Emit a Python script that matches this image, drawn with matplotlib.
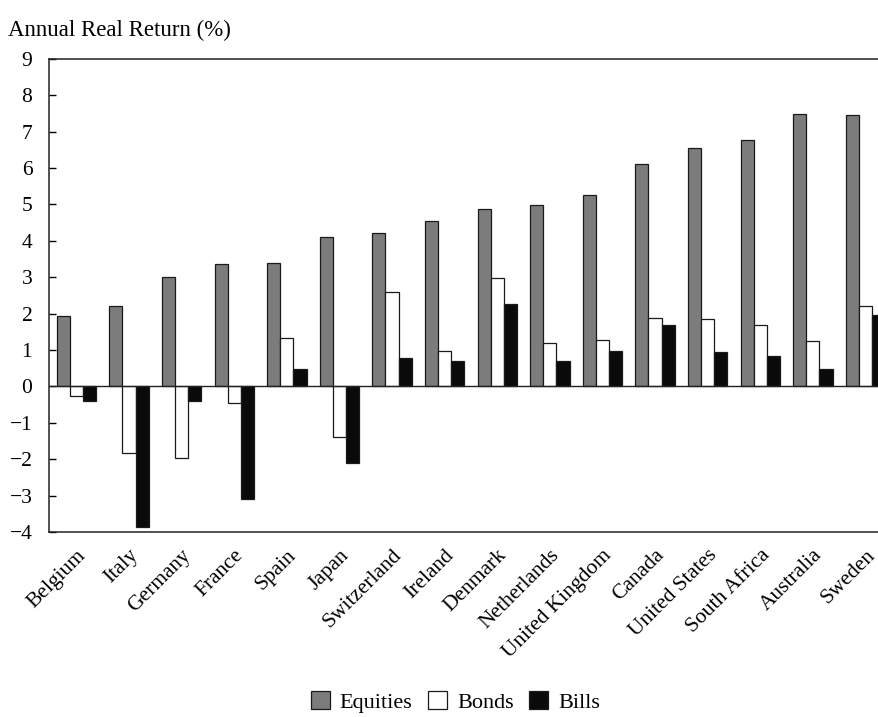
import matplotlib
matplotlib.use("Agg")
import matplotlib.pyplot as plt
import numpy as np

countries = ["Belgium", "Italy", "Germany", "France", "Spain", "Japan",
             "Switzerland", "Ireland", "Denmark", "Netherlands",
             "United Kingdom", "Canada", "United States", "South Africa",
             "Australia", "Sweden"]
equities = [1.94, 2.22, 3.00, 3.35, 3.40, 4.10, 4.22, 4.54, 4.87, 4.98,
            5.26, 6.12, 6.54, 6.77, 7.47, 7.46]
bonds = [-0.25, -1.83, -1.98, -0.46, 1.32, -1.38, 2.60, 0.96, 2.98, 1.19,
         1.27, 1.87, 1.86, 1.69, 1.24, 2.21]
bills = [-0.39, -3.86, -0.40, -3.09, 0.47, -2.11, 0.77, 0.70, 2.27, 0.69,
         0.97, 1.69, 0.95, 0.84, 0.47, 1.96]
yticks = list(range(-4, 10))

plt.rcParams['font.family'] = ['Liberation Serif', 'DejaVu Serif']

fig = plt.figure(figsize=(8.79, 7.17), dpi=100)
ax = fig.add_axes([0.0557, 0.258, 0.951, 0.660])

x = np.arange(len(countries))
w = 0.25
edge = '#1a1a1a'
ax.bar(x - w, equities, w, color='#7c7c7c', edgecolor=edge, linewidth=0.9,
       label='Equities', zorder=2)
ax.bar(x, bonds, w, color='white', edgecolor=edge, linewidth=0.9,
       label='Bonds', zorder=2)
ax.bar(x + w, bills, w, color='#0a0a0a', edgecolor=edge, linewidth=0.9,
       label='Bills', zorder=2)
ax.axhline(0, color='#222222', linewidth=1.0, zorder=3)

ax.set_xlim(-0.523, 15.37)
ax.set_ylim(-4, 9)
ax.set_yticks(yticks)
ax.set_yticklabels([str(t).replace('-', '\u2212') for t in yticks], fontsize=15.5)
ax.tick_params(axis='y', direction='in', length=5, width=1, pad=12)
ax.set_xticks(x)
ax.set_xticklabels(countries, rotation=45, ha='right', rotation_mode='anchor',
                   fontsize=15.5)
ax.tick_params(axis='x', length=0, pad=10)
ax.spines['right'].set_visible(False)
for s in ['top', 'left', 'bottom']:
    ax.spines[s].set_linewidth(1.1)
    ax.spines[s].set_color('#222222')

fig.text(0.009, 0.958, 'Annual Real Return (%)', fontsize=16.5, ha='left',
         va='center')

fig.legend(loc='lower center', bbox_to_anchor=(0.518, -0.022), ncol=3,
           frameon=False, fontsize=16, handlelength=0.85, handleheight=0.85,
           handletextpad=0.45, columnspacing=0.7)

fig.savefig('out.png', dpi=100)
